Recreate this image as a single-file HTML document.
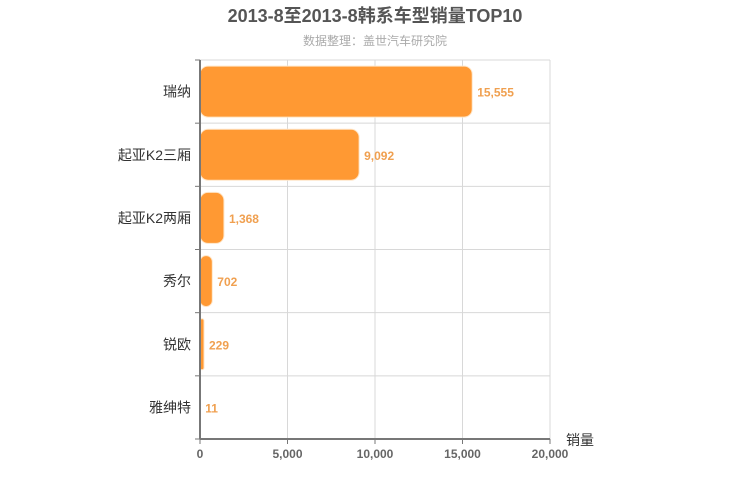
<!DOCTYPE html>
<html><head><meta charset="utf-8"><style>
html,body{margin:0;padding:0;background:#fff;width:750px;height:500px;overflow:hidden}
text{font-family:"Liberation Sans","Noto Sans CJK SC",sans-serif}
</style></head><body>
<svg id="chart" width="750" height="500" xmlns="http://www.w3.org/2000/svg">
<text x="375" y="22" text-anchor="middle" font-size="18" font-weight="bold" fill="#555">2013-8至2013-8韩系车型销量TOP10</text>
<text x="375" y="45" text-anchor="middle" font-size="12" fill="#aaa">数据整理：盖世汽车研究院</text>
<g id="grid"></g><g id="bars"></g><g id="axes"></g>
<text x="566" y="445" font-size="14" fill="#333">销量</text>
</svg>
<script>
const categories = ["瑞纳","起亚K2三厢","起亚K2两厢","秀尔","锐欧","雅绅特"];
const values = [15555,9092,1368,702,229,11];
const tickValues = [0,5000,10000,15000,20000];
const tickLabels = ["0","5,000","10,000","15,000","20,000"];
const NS="http://www.w3.org/2000/svg";
const x0=200,x1=550,y0=60,y1=439,xMax=20000;
const xs=v=>x0+(v/xMax)*(x1-x0);
const band=(y1-y0)/categories.length;
const ys=i=>y0+i*band;
function mk(t,a,p){const e=document.createElementNS(NS,t);for(const k in a)e.setAttribute(k,a[k]);p.appendChild(e);return e;}
const grid=document.getElementById('grid'),bars=document.getElementById('bars'),axes=document.getElementById('axes');
tickValues.forEach((v,i)=>{
  if(i>0){const l=mk('line',{x1:xs(v),x2:xs(v),y1:y0,y2:y1,stroke:'#d8d8d8','stroke-width':1},grid);
  
  }
  const tk=mk('line',{x1:xs(v),x2:xs(v),y1:y1,y2:y1+5,stroke:'#777','stroke-width':1},axes);
  
  
  const t=mk('text',{x:xs(v),y:y1+19,'text-anchor':'middle','font-size':12,'font-weight':'bold',fill:'#666'},axes);
  t.textContent=tickLabels[i];
  
  
});
for(let i=0;i<=categories.length;i++){
  const l=mk('line',{x1:x0,x2:x1,y1:ys(i),y2:ys(i),stroke:'#d8d8d8','stroke-width':1},grid);
  
  
  const tk=mk('line',{x1:x0-5,x2:x0,y1:ys(i),y2:ys(i),stroke:'#777','stroke-width':1},axes);
  
  
}
const ax=mk('line',{x1:x0,x2:x0,y1:y0,y2:y1,stroke:'#777','stroke-width':2},axes);


const bx=mk('line',{x1:x0,x2:x1,y1:y1,y2:y1,stroke:'#777','stroke-width':2},axes);


categories.forEach((c,i)=>{
  const cy=ys(i)+band/2, h=51, w=Math.max(xs(values[i])-x0,0);
  if(w>0.5){
    const r=mk('rect',{x:x0,y:cy-h/2,width:w,height:h,rx:Math.min(8,w/2),fill:'#ff9933',stroke:'#ffe6c8','stroke-width':1},bars);
    
    
  }
  const lb=mk('text',{x:xs(values[i])+5,y:cy+5,'font-size':12,'font-weight':'bold',fill:'#f0a050'},bars);
  lb.textContent=values[i].toLocaleString('en-US');
  
  
  const cl=mk('text',{x:x0-9,y:cy+5,'text-anchor':'end','font-size':14,fill:'#333'},axes);
  cl.textContent=c;
  
  
});
</script>
</body></html>
